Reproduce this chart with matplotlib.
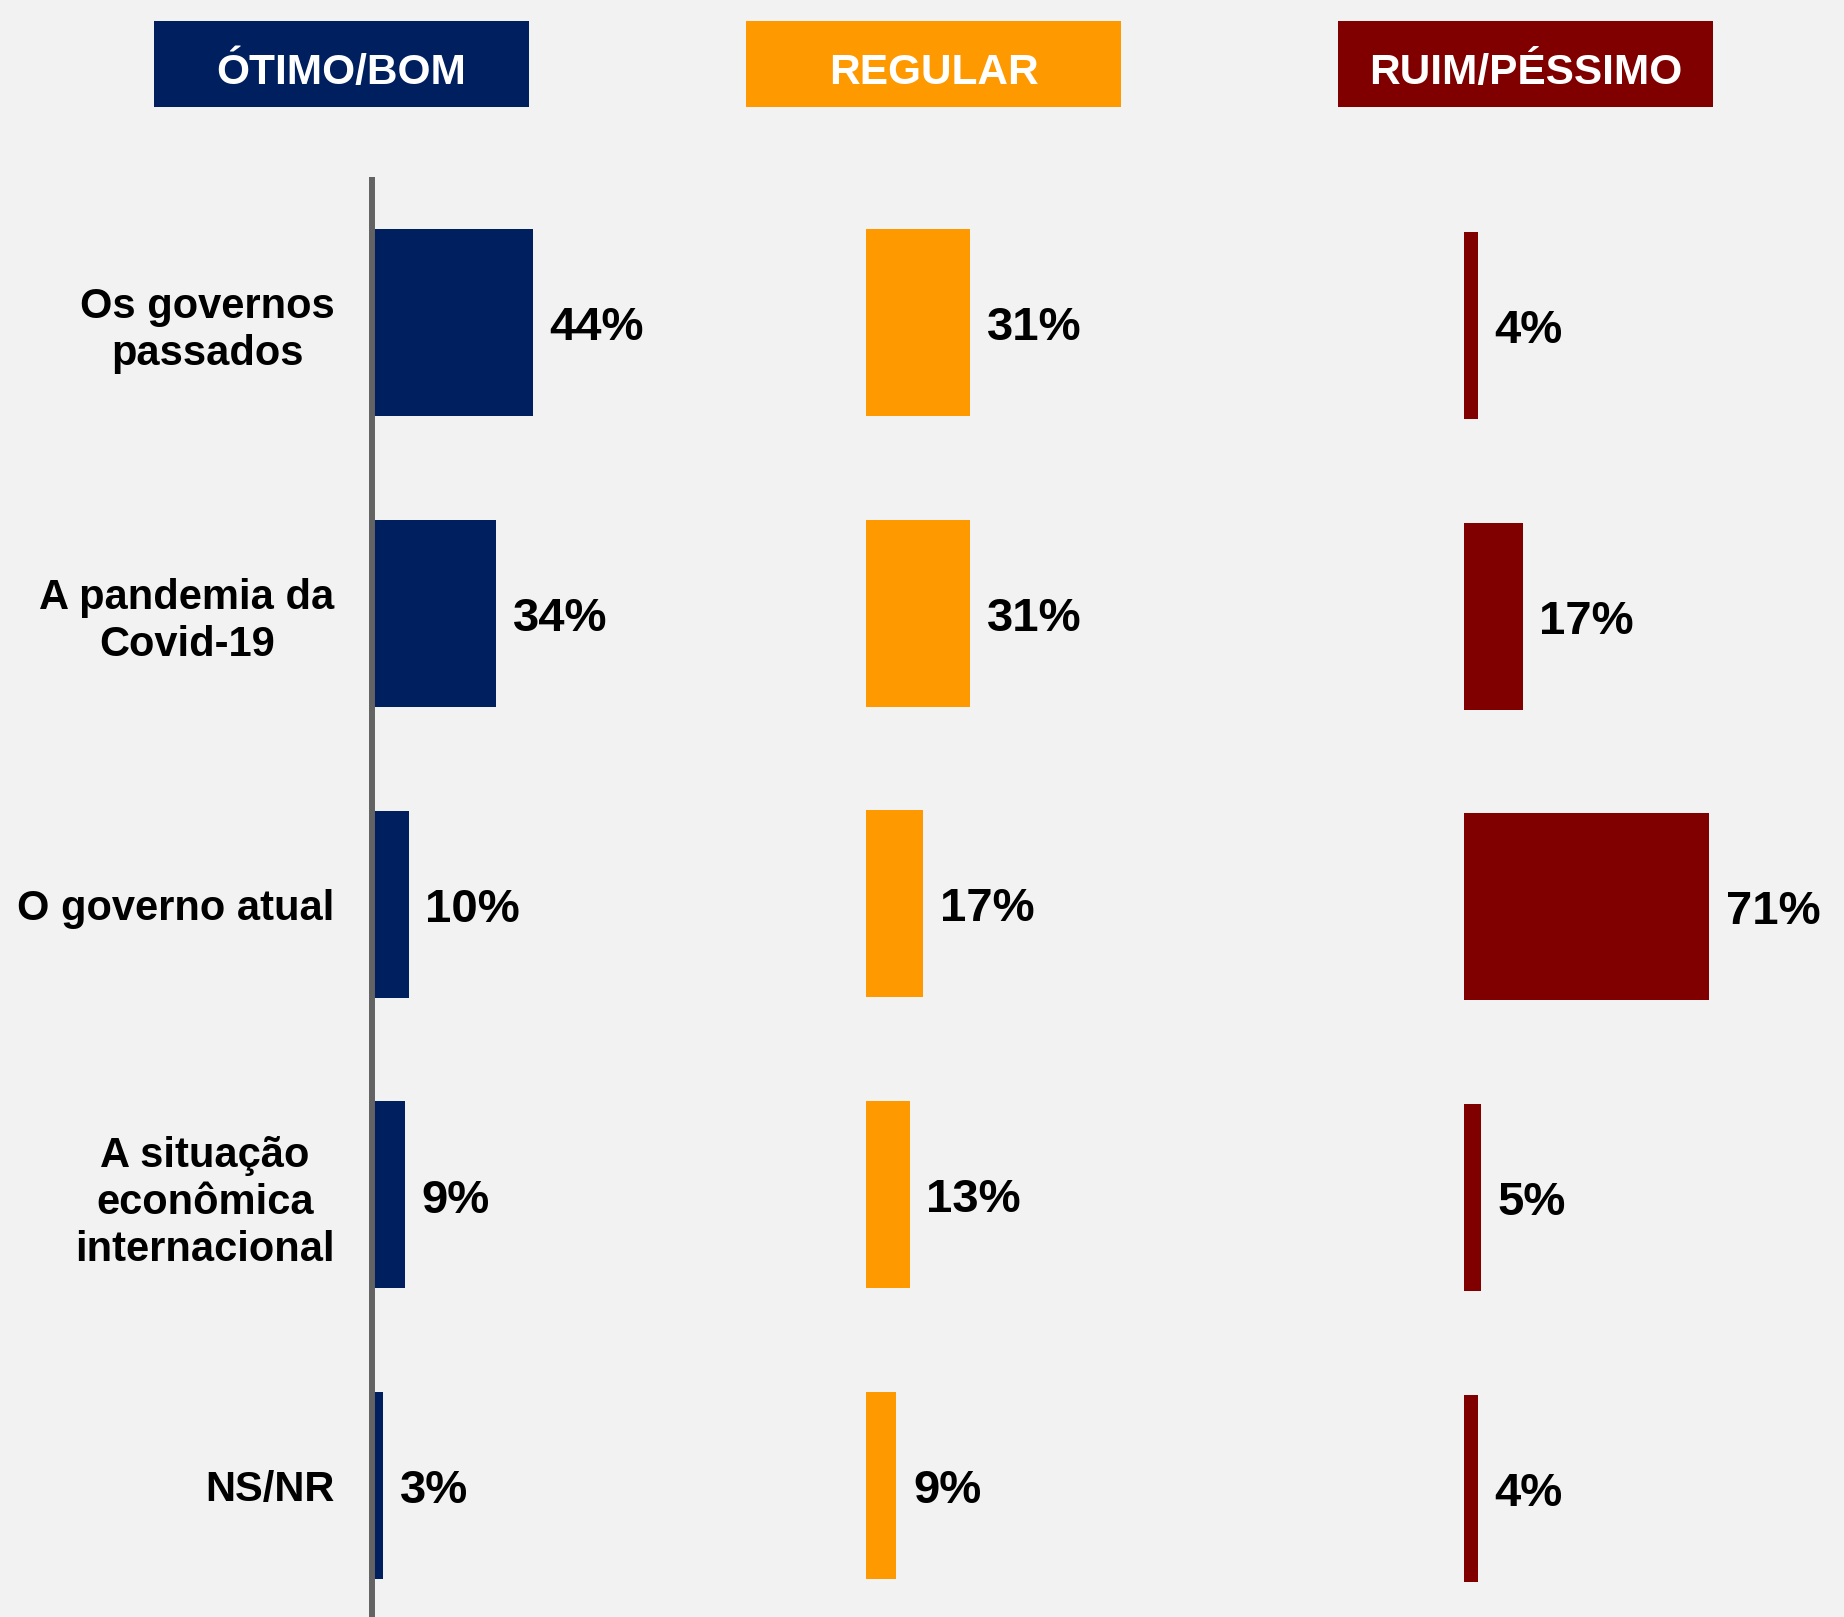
import matplotlib.pyplot as plt
from matplotlib.patches import Rectangle

# Survey responses (%) by rating group
categories = ["Os governos\npassados", "A pandemia da\nCovid-19", "O governo atual",
              "A situação\neconômica\ninternacional", "NS/NR"]
otimo_bom = [44, 34, 10, 9, 3]
regular = [31, 31, 17, 13, 9]
ruim_pessimo = [4, 17, 71, 5, 4]
group_titles = ["ÓTIMO/BOM", "REGULAR", "RUIM/PÉSSIMO"]
group_colors = ["#001F5F", "#FF9900", "#800000"]

W, H = 1844, 1617
BG = "#F2F2F2"
FONT = "Liberation Sans"

fig = plt.figure(figsize=(W / 100, H / 100), dpi=100, facecolor=BG)

def px_axes(left, top, width, height):
    return fig.add_axes([left / W, 1 - (top + height) / H, width / W, height / H])

pitch = 290.7
n = len(categories)
panels = [
    # (left px, top px, px per %, xmax)
    (372, 177.5, 3.65, 60),
    (866, 177.0, 3.36, 60),
    (1464, 180.0, 3.45, 100),
]
series = [otimo_bom, regular, ruim_pessimo]

for i, ((left, top, ppu, xmax), vals, color) in enumerate(zip(panels, series, group_colors)):
    ax = px_axes(left, top, ppu * xmax, pitch * n)
    ax.set_facecolor("none")
    ypos = list(range(n))
    ax.barh(ypos, vals, height=0.643, color=color, zorder=2)
    ax.set_xlim(0, xmax)
    ax.set_ylim(n - 0.5, -0.5)
    for s in ["top", "right", "bottom"]:
        ax.spines[s].set_visible(False)
    ax.set_xticks([])
    if i == 0:
        ax.spines["left"].set_color("#636363")
        ax.spines["left"].set_linewidth(4.3)
        ax.spines["left"].set_capstyle("butt")
        ax.spines["left"].set_zorder(3)
        ax.set_yticks(ypos)
        ax.set_yticklabels(categories, fontsize=30, fontweight="bold", family=FONT,
                           color="black", linespacing=1.22)
        for t in ax.get_yticklabels():
            t.set_multialignment("center")
        ax.tick_params(axis="y", length=0, pad=27)
    else:
        ax.spines["left"].set_visible(False)
        ax.set_yticks([])
    for y, v in zip(ypos, vals):
        ax.annotate(f"{v}%", xy=(v, y), xytext=(12, -4), textcoords="offset points",
                    ha="left", va="center", fontsize=34, fontweight="bold",
                    family=FONT, color="black", annotation_clip=False)

# Group header boxes
box_lefts = [154, 746, 1338]
box_w, box_top, box_bot = 375, 21, 107
for bl, title, color in zip(box_lefts, group_titles, group_colors):
    fig.patches.append(Rectangle((bl / W, 1 - box_bot / H), box_w / W, (box_bot - box_top) / H,
                                 transform=fig.transFigure, facecolor=color, edgecolor="none"))
    fig.text((bl + box_w / 2) / W, 1 - 84 / H, title, ha="center", va="baseline",
             fontsize=30.5, fontweight="bold", family=FONT, color="white")

fig.savefig("out.png", dpi=100, facecolor=BG)
